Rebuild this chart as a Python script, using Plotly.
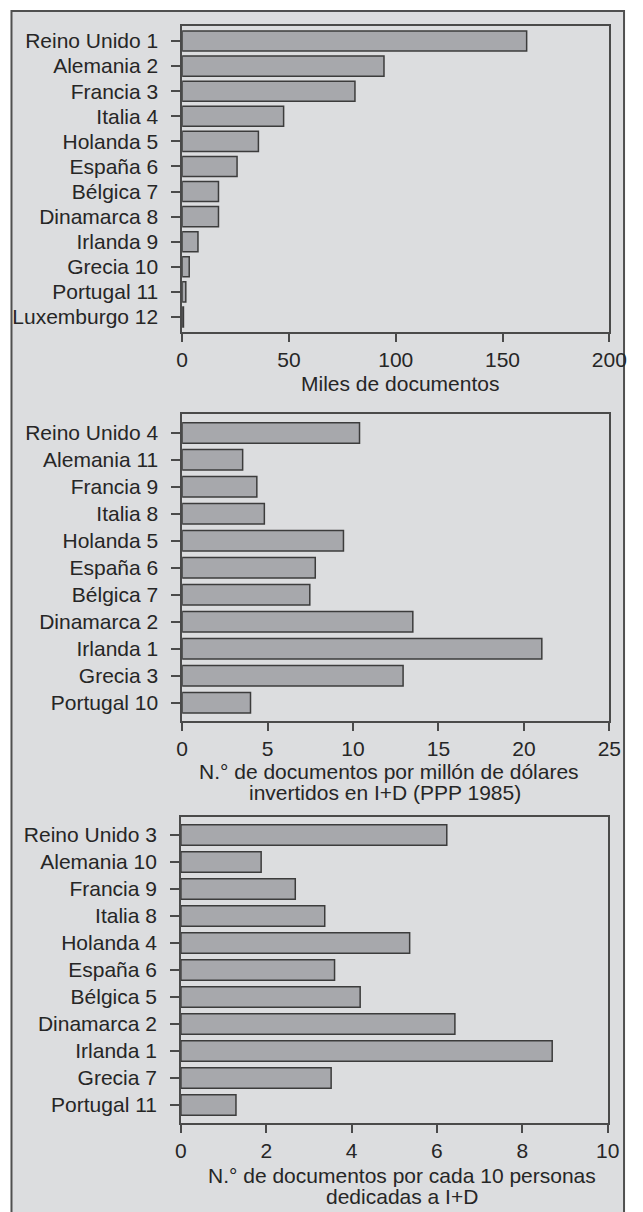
import plotly.graph_objects as go

# Panel 1: miles de documentos
paises_1 = ["Reino Unido", "Alemania", "Francia", "Italia", "Holanda", "España",
            "Bélgica", "Dinamarca", "Irlanda", "Grecia", "Portugal", "Luxemburgo"]
rango_1 = [1, 2, 3, 4, 5, 6, 7, 8, 9, 10, 11, 12]
miles_docs = [161.3, 94.5, 80.9, 47.5, 35.7, 25.7, 17.0, 17.0, 7.4, 3.3, 1.7, 0.6]

# Panel 2: documentos por millón de dólares invertidos en I+D
paises_2 = ["Reino Unido", "Alemania", "Francia", "Italia", "Holanda", "España",
            "Bélgica", "Dinamarca", "Irlanda", "Grecia", "Portugal"]
rango_2 = [4, 11, 9, 8, 5, 6, 7, 2, 1, 3, 10]
docs_por_millon = [10.38, 3.54, 4.37, 4.81, 9.44, 7.79, 7.47, 13.5, 21.05, 12.93, 4.0]

# Panel 3: documentos por cada 10 personas dedicadas a I+D
paises_3 = paises_2
rango_3 = [3, 10, 9, 8, 4, 6, 5, 2, 1, 7, 11]
docs_por_persona = [6.23, 1.88, 2.68, 3.37, 5.36, 3.60, 4.20, 6.42, 8.70, 3.52, 1.29]

W, H = 643, 1212
FONT = "Liberation Sans, Arial, sans-serif"
TXT = "#262626"
LINE = "#4a4a4a"


def px_x(v):
    return v / W


def px_y(v):
    return 1 - v / H


def labels(paises, rangos):
    return ["{} {}".format(p, r) for p, r in zip(paises, rangos)]


fig = go.Figure()

paneles = [
    (labels(paises_1, rango_1), miles_docs, 0.80),
    (labels(paises_2, rango_2), docs_por_millon, 0.76),
    (labels(paises_3, rango_3), docs_por_persona, 0.76),
]
for i, (cats, vals, ancho) in enumerate(paneles):
    sfx = "" if i == 0 else str(i + 1)
    fig.add_trace(go.Bar(
        x=vals, y=cats, orientation="h", width=ancho,
        marker=dict(color="#a7a8ac", line=dict(color="#3c3c3c", width=1.5)),
        xaxis="x" + sfx, yaxis="y" + sfx, showlegend=False, hoverinfo="x+y"))

# dominios en pixeles: (izq, der, arriba, abajo)
dominios = [(183, 626.7, 26, 332), (183, 626.7, 414, 721), (181.7, 625, 817, 1123)]
xrangos = [[0, 200], [0, 25], [0, 10]]
dticks = [50, 5, 2]
yrangos = [[11.6, -0.6], [10.68, -0.7], [10.67, -0.67]]

ejes = {}
for i in range(3):
    l, r, t, b = dominios[i]
    sfx = "" if i == 0 else str(i + 1)
    ejes["xaxis" + sfx] = dict(
        domain=[px_x(l), px_x(r)], range=xrangos[i], dtick=dticks[i], tick0=0,
        anchor="y" + sfx, showgrid=False, zeroline=False,
        showline=True, mirror=True, linecolor=LINE, linewidth=1.5,
        ticks="outside", ticklen=8, tickwidth=1.5, tickcolor=LINE,
        tickfont=dict(family=FONT, size=21, color=TXT), fixedrange=True)
    ejes["yaxis" + sfx] = dict(
        domain=[px_y(b), px_y(t)], range=yrangos[i], type="category",
        anchor="x" + sfx, showgrid=False, zeroline=False,
        showline=True, mirror=True, linecolor=LINE, linewidth=1.5,
        ticks="outside", ticklen=9, tickwidth=1.5, tickcolor=LINE,
        ticklabelstandoff=9,
        tickfont=dict(family=FONT, size=21, color=TXT), fixedrange=True)

titulos = [
    ("Miles de documentos", 409, 383),
    ("N.° de documentos por millón de dólares", 398, 771),
    ("invertidos en I+D (PPP 1985)", 394, 792),
    ("N.° de documentos por cada 10 personas", 411, 1175),
    ("dedicadas a I+D", 411, 1196),
]
anots = [dict(text=t, x=px_x(x), y=px_y(y), xref="paper", yref="paper",
              xanchor="center", yanchor="middle", showarrow=False,
              font=dict(family=FONT, size=21, color=TXT))
         for t, x, y in titulos]

fig.update_layout(
    width=W, height=H, autosize=False, margin=dict(l=0, r=0, t=0, b=0),
    paper_bgcolor="white", plot_bgcolor="white",
    bargap=0.2, annotations=anots,
    shapes=[dict(type="rect", xref="paper", yref="paper", layer="below",
                 x0=px_x(5.7), x1=px_x(642), y0=px_y(1230), y1=px_y(11),
                 fillcolor="#dcdddf", line=dict(color="#505050", width=2))],
    **ejes)

# sin margen del body para que la figura quede en (0, 0)
ajuste = ("document.body.style.margin='0';"
          "document.body.style.overflow='hidden';")
fig.write_html("out.html",
               config={"responsive": False, "displayModeBar": False},
               post_script=ajuste)
